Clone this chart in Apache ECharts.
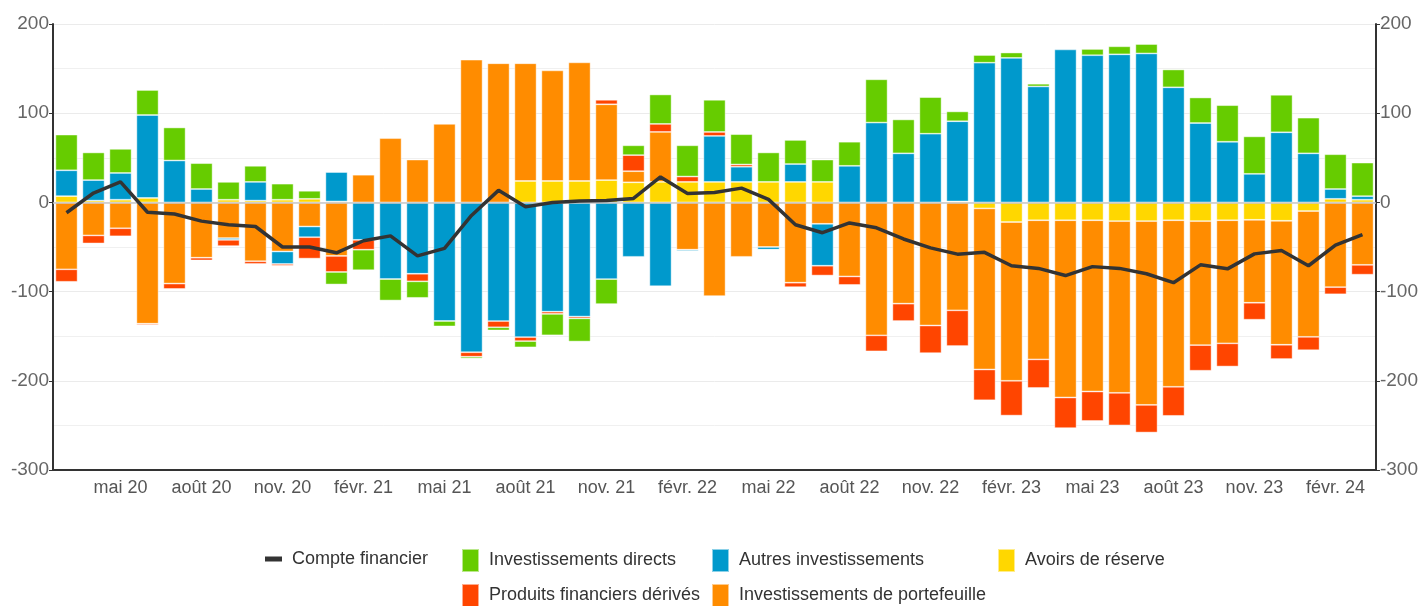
<!DOCTYPE html>
<html>
<head>
<meta charset="utf-8">
<script src="https://cdn.jsdelivr.net/npm/echarts@6/dist/echarts.min.js"></script>
<style>
html,body{margin:0;padding:0;background:#fff;}
#chart{width:1421px;height:606px;}
</style>
</head>
<body>
<div id="chart"></div>
<script>
// Months (mars 2020 -> mars 2024)
const categories = [
  "mars 20","avr. 20","mai 20","juin 20","juil. 20","août 20","sept. 20","oct. 20","nov. 20","déc. 20",
  "janv. 21","févr. 21","mars 21","avr. 21","mai 21","juin 21","juil. 21","août 21","sept. 21","oct. 21","nov. 21","déc. 21",
  "janv. 22","févr. 22","mars 22","avr. 22","mai 22","juin 22","juil. 22","août 22","sept. 22","oct. 22","nov. 22","déc. 22",
  "janv. 23","févr. 23","mars 23","avr. 23","mai 23","juin 23","juil. 23","août 23","sept. 23","oct. 23","nov. 23","déc. 23",
  "janv. 24","févr. 24","mars 24"
];

const yTicks = [-300, -200, -100, 0, 100, 200];

const avoirsReserve = [7,2,3,5,0,0,3,2,3,4,1,0,0,0,0,0,0,24,24,24,25,22.5,23,23,23,23,23,23,23,0,0,0,0,1,-6.7,-22,-20,-20,-20,-21,-21,-20,-21,-20,-19.5,-20.6,-9.7,4,3];

const investPortefeuille = [-75,-37,-29,-136,-91,-62,-40,-66,-55,-27,-60,31,72,48,88,160,156,132,124,133,85,12.5,56,-53,-105,-61,-50,-90,-24,-83,-149,-113.5,-138,-121,-180.6,-178,-156,-198.7,-192,-192.5,-206,-186.7,-139,-138,-93,-139,-141,-95,-70];

const autresInvest = [29,23,30,93,47,15,-2,21,-14,-12,33,-42,-86,-80,-133,-168,-133,-151,-122.5,-128,-86,-61,-94,-1.5,51.5,17,-3,20,-47,41,89.5,55,77,90,156.6,162,130,171.5,165,166,167,129,89,68,32,78.6,55,11,4];

const produitsDerives = [-14,-9,-9,-1.5,-6,-3,-7,-3,-2,-24,-18,-11,0,-8.5,0,-5,-7,-4.5,-2.5,-2,5,18,9,6,4.5,2.5,0,-5,-11,-9.5,-18,-19.5,-31,-40,-34.5,-39,-32,-34.5,-33,-36.5,-31,-32.6,-28.7,-26,-19,-16,-15,-8,-11];

const investDirects = [40,31,27,28,37,29,20,18,18,9,-14,-23,-24,-18.5,-6,-2,-3.5,-7,-24,-26,-28,11,33,35,36,34,33,27,25,27,48.5,38,41,11,8.6,6,3,0,7,9,10.5,20,28.6,41,42,42,40,39,37.6];

const compteFinancier = [-11.6,10.5,23,-11,-13,-21,-25,-27,-50,-50,-56.5,-43,-37.5,-60,-51.5,-14.6,13.5,-5,0,1.5,2,4.5,28.5,10,11,16,3.4,-25,-34,-23,-28.5,-41,-51,-58,-56,-71,-74,-82,-72,-74,-80,-90,-70,-74.5,-57.7,-54,-71,-48,-36];

const names = {
  cf: "Compte financier",
  id: "Investissements directs",
  ai: "Autres investissements",
  ar: "Avoirs de réserve",
  pd: "Produits financiers dérivés",
  ip: "Investissements de portefeuille"
};
const colors = {
  id: "#66cc00",
  ai: "#0099cc",
  ar: "#ffd700",
  pd: "#ff4500",
  ip: "#ff8c00",
  cf: "#333333"
};

const FONT = "'Liberation Sans', Arial, sans-serif";
const showIdx = function (i) { return i % 3 === 2; };

function barSeries(name, data, color) {
  return {
    name: name,
    type: 'bar',
    stack: 'total',
    data: data,
    barCategoryGap: '18%',
    itemStyle: { color: color, borderColor: 'rgba(255,255,255,0.55)', borderWidth: 0.8 },
    emphasis: { disabled: true }
  };
}

function legendAt(key, left, top, iw, ih, icon) {
  return {
    data: [{ name: names[key], icon: icon || 'rect' }],
    left: left, top: top, padding: 0,
    itemWidth: iw, itemHeight: ih,
    selectedMode: false,
    textStyle: { fontFamily: FONT, fontSize: 18, color: '#333', padding: [0, 0, 0, 5] }
  };
}

const chart = echarts.init(document.getElementById('chart'));
chart.setOption({
  animation: false,
  textStyle: { fontFamily: FONT },
  grid: { left: 53, right: 43, top: 24, bottom: 136, containLabel: false },
  legend: [
    legendAt('cf', 265, 550, 17, 5),
    legendAt('id', 461, 548, 17, 23),
    legendAt('ai', 711, 548, 17, 23),
    legendAt('ar', 997, 548, 17, 23),
    legendAt('pd', 461, 583, 17, 23),
    legendAt('ip', 711, 583, 17, 23)
  ],
  xAxis: {
    type: 'category',
    data: categories,
    boundaryGap: true,
    axisLine: { onZero: false, lineStyle: { color: '#333', width: 2 } },
    axisTick: { interval: showIdx, alignWithLabel: true, length: 5, lineStyle: { color: '#333', width: 1.5 } },
    axisLabel: { interval: showIdx, fontFamily: FONT, fontSize: 18, color: '#555', margin: 9 },
    splitLine: { show: false }
  },
  yAxis: [
    {
      type: 'value',
      min: yTicks[0], max: yTicks[yTicks.length - 1], interval: 100,
      axisLine: { show: true, lineStyle: { color: '#333', width: 2 } },
      axisTick: { show: true, length: 4, lineStyle: { color: '#333' } },
      axisLabel: { fontFamily: FONT, fontSize: 19, color: '#666', margin: 4 },
      splitLine: { show: true, lineStyle: { color: '#ebebeb', width: 1 } },
      minorTick: { show: false, splitNumber: 2 },
      minorSplitLine: { show: true, lineStyle: { color: '#f0f0f0', width: 1 } }
    },
    {
      type: 'value',
      position: 'right',
      min: yTicks[0], max: yTicks[yTicks.length - 1], interval: 100,
      axisLine: { show: true, lineStyle: { color: '#333', width: 2 } },
      axisTick: { show: true, length: 4, lineStyle: { color: '#333' } },
      axisLabel: { fontFamily: FONT, fontSize: 19, color: '#666', margin: 4 },
      splitLine: { show: false }
    }
  ],
  series: [
    barSeries(names.ar, avoirsReserve, colors.ar),
    barSeries(names.ip, investPortefeuille, colors.ip),
    barSeries(names.ai, autresInvest, colors.ai),
    barSeries(names.pd, produitsDerives, colors.pd),
    barSeries(names.id, investDirects, colors.id),
    {
      name: names.cf,
      type: 'line',
      data: compteFinancier,
      z: 5,
      showSymbol: false,
      symbol: 'none',
      lineStyle: { color: colors.cf, width: 3.5 },
      itemStyle: { color: colors.cf },
      emphasis: { disabled: true },
      markLine: {
        silent: true,
        symbol: 'none',
        label: { show: false },
        lineStyle: { color: '#c8c8c8', width: 1.5, type: 'solid' },
        data: [{ yAxis: 0 }]
      }
    }
  ]
});
</script>
</body>
</html>
